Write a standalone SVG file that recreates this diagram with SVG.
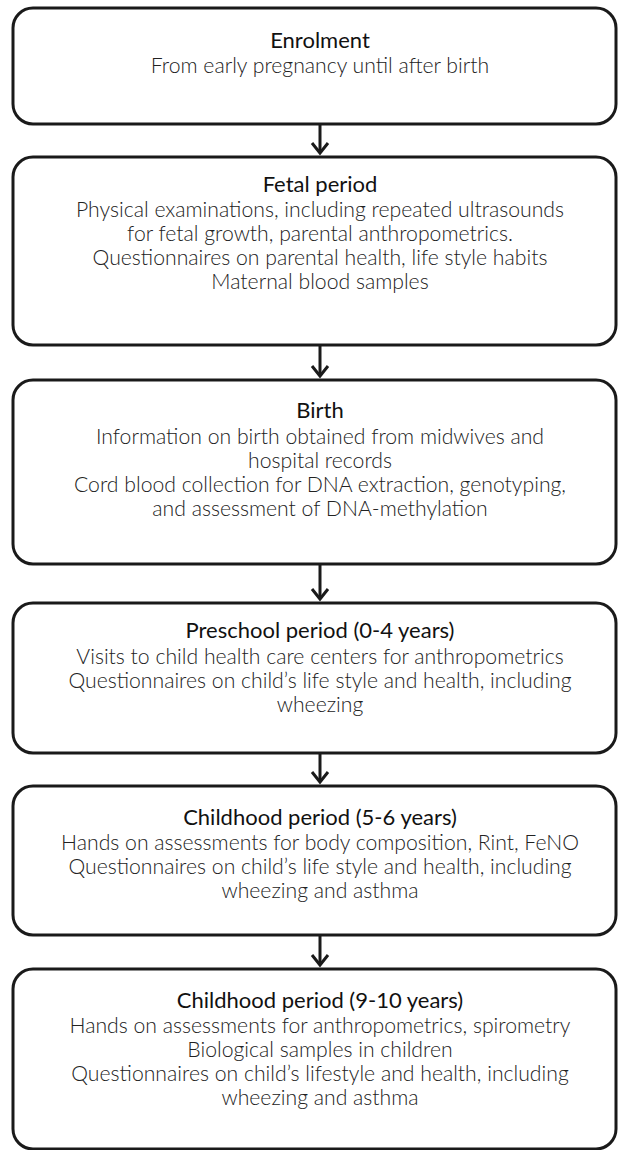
<svg xmlns="http://www.w3.org/2000/svg" width="619" height="1150" viewBox="0 0 619 1150">
<defs>
<style>
.box{fill:#fff;stroke:#1a1a1a;stroke-width:3}
.t{font-family:Lato,"Open Sans","Liberation Sans",sans-serif;font-size:22px;font-weight:400;fill:#111;text-anchor:middle}
.b{font-family:Lato,"Open Sans","Liberation Sans",sans-serif;font-size:21.2px;font-weight:300;fill:#222;text-anchor:middle}
.ln{stroke:#1a1a1a;stroke-width:3;fill:none}
</style>
</defs>
<rect width="619" height="1150" fill="#fff"/>
<g id="connectors">
<path class="ln" d="M320,124 V153" />
<path class="ln" d="M312,143 L320,153 L328,143"/>
<path class="ln" d="M320,345 V376"/>
<path class="ln" d="M312,366 L320,376 L328,366"/>
<path class="ln" d="M320,564 V599"/>
<path class="ln" d="M312,589 L320,599 L328,589"/>
<path class="ln" d="M320,753 V782"/>
<path class="ln" d="M312,772 L320,782 L328,772"/>
<path class="ln" d="M320,935 V965"/>
<path class="ln" d="M312,955 L320,965 L328,955"/>
</g>
<g id="enrolment">
<rect class="box" x="13" y="8" width="603" height="116" rx="20"/>
<text class="t" x="320" y="48">Enrolment</text>
<text class="b" x="320" y="73">From early pregnancy until after birth</text>
</g>
<g id="fetal">
<rect class="box" x="13" y="157" width="603" height="188" rx="20"/>
<text class="t" x="320" y="192">Fetal period</text>
<text class="b" x="320" y="217">Physical examinations, including repeated ultrasounds</text>
<text class="b" x="320" y="241">for fetal growth, parental anthropometrics.</text>
<text class="b" x="320" y="265">Questionnaires on parental health, life style habits</text>
<text class="b" x="320" y="289">Maternal blood samples</text>
</g>
<g id="birth">
<rect class="box" x="13" y="380" width="603" height="184" rx="20"/>
<text class="t" x="320" y="418">Birth</text>
<text class="b" x="320" y="444">Information on birth obtained from midwives and</text>
<text class="b" x="320" y="468">hospital records</text>
<text class="b" x="320" y="492">Cord blood collection for DNA extraction, genotyping,</text>
<text class="b" x="320" y="516">and assessment of DNA-methylation</text>
</g>
<g id="preschool">
<rect class="box" x="13" y="603" width="603" height="150" rx="20"/>
<text class="t" x="320" y="638">Preschool period (0-4 years)</text>
<text class="b" x="320" y="664">Visits to child health care centers for anthropometrics</text>
<text class="b" x="320" y="688">Questionnaires on child’s life style and health, including</text>
<text class="b" x="320" y="712">wheezing</text>
</g>
<g id="childhood56">
<rect class="box" x="13" y="786" width="603" height="149" rx="20"/>
<text class="t" x="320" y="825">Childhood period (5-6 years)</text>
<text class="b" x="320" y="850">Hands on assessments for body composition, Rint, FeNO</text>
<text class="b" x="320" y="874">Questionnaires on child’s life style and health, including</text>
<text class="b" x="320" y="898">wheezing and asthma</text>
</g>
<g id="childhood910">
<rect class="box" x="13" y="969" width="603" height="180" rx="20"/>
<text class="t" x="320" y="1008">Childhood period (9-10 years)</text>
<text class="b" x="320" y="1033">Hands on assessments for anthropometrics, spirometry</text>
<text class="b" x="320" y="1057">Biological samples in children</text>
<text class="b" x="320" y="1081">Questionnaires on child’s lifestyle and health, including</text>
<text class="b" x="320" y="1105">wheezing and asthma</text>
</g>
</svg>
